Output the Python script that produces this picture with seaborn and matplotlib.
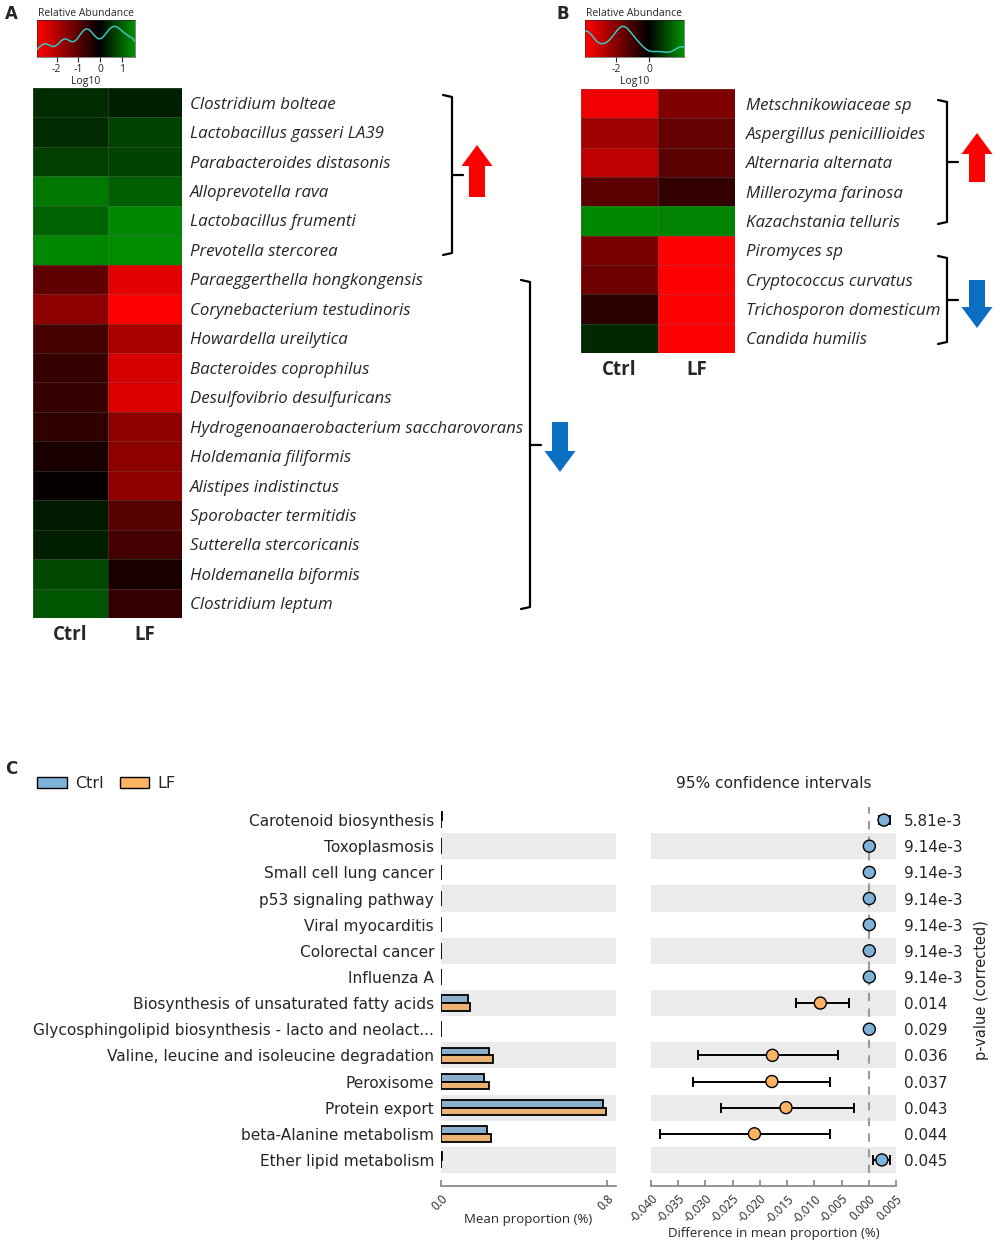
#!/usr/bin/env python3
"""Heatmaps of bacterial / fungal taxa (A, B) and STAMP-style pathway comparison (C)."""

import numpy as np
import pandas as pd
import matplotlib
matplotlib.use('Agg')
import matplotlib.pyplot as plt
import seaborn as sns
from matplotlib.colors import LinearSegmentedColormap
from matplotlib.patches import FancyArrow, Patch
from matplotlib.lines import Line2D

# %% --- Data ---
bact_taxa = ['Clostridium bolteae', 'Lactobacillus gasseri LA39', 'Parabacteroides distasonis',
             'Alloprevotella rava', 'Lactobacillus frumenti', 'Prevotella stercorea',
             'Paraeggerthella hongkongensis', 'Corynebacterium testudinoris', 'Howardella ureilytica',
             'Bacteroides coprophilus', 'Desulfovibrio desulfuricans',
             'Hydrogenoanaerobacterium saccharovorans', 'Holdemania filiformis',
             'Alistipes indistinctus', 'Sporobacter termitidis', 'Sutterella stercoricanis',
             'Holdemanella biformis', 'Clostridium leptum']
bact_ctrl = [0.51, 0.48, 0.71, 1.37, 1.12, 1.54, -1.08, -1.59, -0.80, -0.63, -0.63, -0.51,
             -0.28, -0.06, 0.29, 0.34, 0.80, 0.97]
bact_lf = [0.34, 0.74, 0.74, 1.09, 1.54, 1.60, -2.56, -2.90, -1.93, -2.44, -2.50, -1.59,
           -1.59, -1.65, -0.97, -0.74, -0.28, -0.57]

fungi_taxa = ['Metschnikowiaceae sp', 'Aspergillus penicillioides', 'Alternaria alternata',
              'Millerozyma farinosa', 'Kazachstania telluris', 'Piromyces sp',
              'Cryptococcus curvatus', 'Trichosporon domesticum', 'Candida humilis']
fungi_ctrl = [-3.67, -2.45, -2.90, -1.38, 2.02, -1.84, -1.68, -0.61, 0.60]
fungi_lf = [-1.91, -1.53, -1.38, -0.76, 1.95, -3.90, -3.90, -3.90, -3.90]

pathways = ['Carotenoid biosynthesis', 'Toxoplasmosis', 'Small cell lung cancer',
            'p53 signaling pathway', 'Viral myocarditis', 'Colorectal cancer', 'Influenza A',
            'Biosynthesis of unsaturated fatty acids',
            'Glycosphingolipid biosynthesis - lacto and neolact...',
            'Valine, leucine and isoleucine degradation', 'Peroxisome', 'Protein export',
            'beta-Alanine metabolism', 'Ether lipid metabolism']
mean_ctrl = [0.004, 0.002, 0.002, 0.002, 0.002, 0.002, 0.002, 0.13, 0.002, 0.23, 0.21, 0.78, 0.22, 0.003]
mean_lf = [0.002, 0.002, 0.002, 0.002, 0.002, 0.002, 0.002, 0.14, 0.002, 0.25, 0.23, 0.795, 0.24, 0.001]
diff_mean = [0.0028, 0.0001, 0.0001, 0.0001, 0.0001, 0.0001, 0.0001, -0.0089, 0.0001,
             -0.0177, -0.0178, -0.0152, -0.0210, 0.0024]
ci_low = [0.0018, 0.0000, 0.0000, 0.0000, 0.0000, 0.0000, 0.0000, -0.0134, 0.0000,
          -0.0314, -0.0322, -0.0271, -0.0383, 0.0008]
ci_high = [0.0039, 0.0002, 0.0002, 0.0002, 0.0002, 0.0002, 0.0002, -0.0037, 0.0002,
           -0.0057, -0.0071, -0.0027, -0.0072, 0.0039]
p_values = ['5.81e-3', '9.14e-3', '9.14e-3', '9.14e-3', '9.14e-3', '9.14e-3', '9.14e-3',
            '0.014', '0.029', '0.036', '0.037', '0.043', '0.044', '0.045']

# %% --- Style ---
sns.set_theme(style="white")
plt.rcParams['font.family'] = ['DejaVu Sans']
SANS = ['Open Sans', 'DejaVu Sans']
CTRL_C = '#7fb2d8'
LF_C = '#fdb462'
BAND = '#ebebeb'

W, H = 1000, 1246
fig = plt.figure(figsize=(W / 100, H / 100), dpi=100)


def fax(x0, y0, x1, y1):
    """axes from pixel box (top-left origin)"""
    return fig.add_axes([x0 / W, 1 - y1 / H, (x1 - x0) / W, (y1 - y0) / H])


def red_black_green(vmin, vmax):
    mid = (0 - vmin) / (vmax - vmin)
    return LinearSegmentedColormap.from_list('rbg', [(0, '#ff0000'), (mid, '#000000'), (1, '#008c00')])


def draw_heatmap(ax, taxa, ctrl, lf, vmin, vmax, pad):
    df = pd.DataFrame({'Ctrl': ctrl, 'LF': lf}, index=taxa)
    sns.heatmap(df, ax=ax, cmap=red_black_green(vmin, vmax), vmin=vmin, vmax=vmax, cbar=False,
                linewidths=0.5, linecolor=(0.4, 0.4, 0.4, 0.35))
    ax.yaxis.tick_right()
    ax.set_yticks(np.arange(len(taxa)) + 0.5)
    ax.set_yticklabels(taxa, rotation=0, style='italic', fontsize=12.2, family=SANS)
    ax.set_xticklabels(['Ctrl', 'LF'], fontsize=13.5, weight='bold', family=SANS)
    ax.tick_params(axis='y', length=0, pad=pad)
    ax.tick_params(axis='x', length=0, pad=5)
    ax.set_xlabel('')
    ax.set_ylabel('')


def draw_key(box, values, vmin, vmax, ticks):
    cax = fax(*box)
    cmap = red_black_green(vmin, vmax).resampled(34)
    grad = np.linspace(vmin, vmax, 200)[None, :]
    cax.imshow(grad, aspect='auto', cmap=cmap, vmin=vmin, vmax=vmax, extent=[vmin, vmax, 0, 1])
    cax.set_xlim(vmin, vmax)
    cax.set_yticks([])
    cax.set_xticks(ticks)
    cax.set_xticklabels([str(t) for t in ticks], fontsize=7.5, family=SANS)
    cax.tick_params(axis='x', length=3.5, width=0.8, pad=1.5, bottom=True)
    cax.set_xlabel('Log10', fontsize=7.5, labelpad=0.5, family=SANS)
    cax.set_title('Relative Abundance', fontsize=7.5, pad=3, family=SANS)
    for s in cax.spines.values():
        s.set_linewidth(0.4)
    kax = fax(*box)
    kax.patch.set_alpha(0)
    sns.kdeplot(x=values, ax=kax, color='#35c8c0', lw=1.1, bw_adjust=0.45)
    kax.set_xlim(vmin, vmax)
    kax.set_ylim(0, kax.get_ylim()[1] * 1.15)
    kax.axis('off')


# %% --- Panel A / B heatmaps ---
axA = fax(33, 88, 182, 618)
draw_heatmap(axA, bact_taxa, bact_ctrl, bact_lf, -2.9, 1.6, pad=5.5)
draw_key((37, 20, 135, 57), bact_ctrl + bact_lf, -2.9, 1.6, [-2, -1, 0, 1])

axB = fax(581, 89, 735, 353)
draw_heatmap(axB, fungi_taxa, fungi_ctrl, fungi_lf, -3.9, 2.1, pad=8)
draw_key((585, 20, 684, 57), fungi_ctrl + fungi_lf, -3.9, 2.1, [-2, 0])

# overlay for brackets and arrows (pixel coordinates)
ov = fig.add_axes([0, 0, 1, 1])
ov.set_xlim(0, W)
ov.set_ylim(H, 0)
ov.axis('off')


def bracket(x, y0, y1):
    ym = (y0 + y1) / 2
    ov.add_line(Line2D([x - 9, x, x, x - 9], [y0, y0 + 2, y1 - 2, y1], color='black', lw=1.6))
    ov.add_line(Line2D([x, x + 11], [ym, ym], color='black', lw=1.6))


def arrow(x, y_tail, y_tip, color):
    ov.add_patch(FancyArrow(x, y_tail, 0, y_tip - y_tail, width=16, head_width=31,
                            head_length=21, length_includes_head=True, color=color, lw=0))


RED = '#ff0000'
BLUE = '#0a6fc2'
bracket(452, 95, 255)
arrow(477, 197, 145, RED)
bracket(530, 280, 609)
arrow(560, 422, 472, BLUE)
bracket(947, 100, 224)
arrow(977, 182, 133, RED)
bracket(947, 256, 344)
arrow(977, 280, 328, BLUE)


def style_xaxis(ax):
    # spine position must be set before ticks (it resets tick properties)
    for s in ['top', 'right', 'left']:
        ax.spines[s].set_visible(False)
    ax.spines['bottom'].set_position(('outward', 9))
    ax.spines['bottom'].set_color('#888888')


# %% --- Panel C: mean proportions ---
n = len(pathways)
ax_bar = fax(441, 807, 616, 1173)
df_bar = pd.DataFrame({'pathway': pathways * 2,
                       'group': ['Ctrl'] * n + ['LF'] * n,
                       'mean': mean_ctrl + mean_lf})
sns.barplot(data=df_bar, y='pathway', x='mean', hue='group', order=pathways,
            hue_order=['Ctrl', 'LF'], palette={'Ctrl': CTRL_C, 'LF': LF_C}, width=0.6,
            edgecolor='black', linewidth=1.3, errorbar=None, legend=False, ax=ax_bar)
style_xaxis(ax_bar)
for i in range(1, n, 2):
    ax_bar.axhspan(i - 0.5, i + 0.5, color=BAND, zorder=0, lw=0)
ax_bar.set_ylim(n - 0.5, -0.5)
ax_bar.set_xlim(0, 0.845)
ax_bar.set_yticks(np.arange(n))
ax_bar.set_yticklabels(pathways, fontsize=11.1)
ax_bar.set_xticks([0.0, 0.8])
ax_bar.set_xticklabels(['0.0', '0.8'], rotation=45, ha='right', rotation_mode='anchor',
                       fontsize=8.5, family=SANS)
ax_bar.set_xlabel('Mean proportion (%)', fontsize=9.5, family=SANS, labelpad=0)
ax_bar.set_ylabel('')
ax_bar.tick_params(axis='y', length=0, pad=5)
ax_bar.tick_params(axis='x', direction='in', length=4, color='#888888', bottom=True, pad=5)

# %% --- Panel C: confidence intervals ---
ax_ci = fax(651, 807, 896, 1173)
style_xaxis(ax_ci)
for i in range(1, n, 2):
    ax_ci.axhspan(i - 0.5, i + 0.5, color=BAND, zorder=0, lw=0)
ax_ci.axvline(0, color='#9a9a9a', ls=(0, (4, 3.5)), lw=1.5, zorder=1)
df_ci = pd.DataFrame({'pos': np.arange(n), 'diff': diff_mean, 'low': ci_low, 'high': ci_high})
df_ci['group'] = np.where(df_ci['diff'] > 0, 'Ctrl', 'LF')
ax_ci.errorbar(df_ci['diff'], df_ci['pos'],
               xerr=[df_ci['diff'] - df_ci['low'], df_ci['high'] - df_ci['diff']],
               fmt='none', ecolor='black', elinewidth=1.4, capsize=3.5, capthick=1.4, zorder=2)
sns.scatterplot(data=df_ci, x='diff', y='pos', hue='group', palette={'Ctrl': CTRL_C, 'LF': LF_C},
                s=75, edgecolor='black', linewidth=1, legend=False, zorder=3, ax=ax_ci)
ax_ci.set_ylim(n - 0.5, -0.5)
ax_ci.set_xlim(-0.040, 0.005)
ci_ticks = np.round(np.arange(-0.040, 0.0051, 0.005), 3)
ax_ci.set_xticks(ci_ticks)
ax_ci.set_xticklabels([f'{t:.3f}' if t != 0 else '0.000' for t in ci_ticks], rotation=45,
                      ha='right', rotation_mode='anchor', fontsize=8.5, family=SANS)
ax_ci.set_yticks([])
ax_ci.set_ylabel('')
ax_ci.set_xlabel('Difference in mean proportion (%)', fontsize=9.5, family=SANS, labelpad=1)
ax_ci.tick_params(axis='x', direction='in', length=4, color='#888888', bottom=True, pad=5)
ax_ci.set_title('95% confidence intervals', fontsize=11.1, pad=14)

ax_p = ax_ci.twinx()
ax_p.set_ylim(n - 0.5, -0.5)
ax_p.set_yticks(np.arange(n))
ax_p.set_yticklabels(p_values, fontsize=11)
ax_p.tick_params(axis='y', length=0, pad=6)
ax_p.set_ylabel('p-value (corrected)', fontsize=10.5, labelpad=8)
for s in ax_p.spines.values():
    s.set_visible(False)

fig.legend(handles=[Patch(facecolor=CTRL_C, edgecolor='black', label='Ctrl'),
                    Patch(facecolor=LF_C, edgecolor='black', label='LF')],
           loc='upper left', bbox_to_anchor=(31 / W, 1 - 770 / H), ncol=2, frameon=False,
           fontsize=11.5, handlelength=1.85, handleheight=0.65, handletextpad=0.5,
           columnspacing=1.0, borderaxespad=0)

# panel letters
for letter, x, y in [('A', 5, 5), ('B', 557, 5), ('C', 5, 760)]:
    fig.text(x / W, 1 - y / H, letter, fontsize=12, weight='bold', va='top', ha='left')

fig.savefig('out.png', dpi=100)
print("saved out.png")
